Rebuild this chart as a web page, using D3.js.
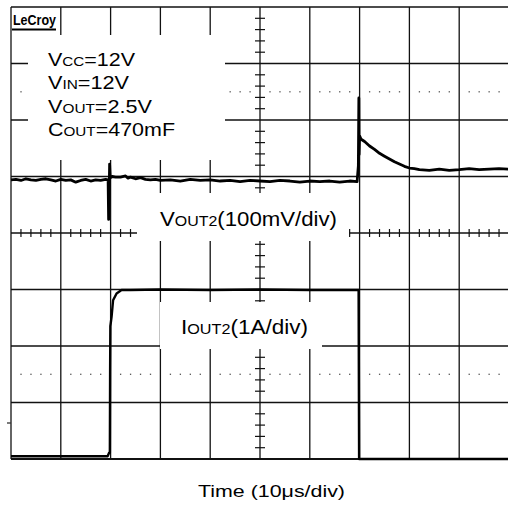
<!DOCTYPE html>
<html><head><meta charset="utf-8">
<script src="https://cdn.jsdelivr.net/npm/d3@7/dist/d3.min.js"></script>
<style>html,body{margin:0;padding:0;background:#fff}svg{display:block}</style>
</head><body><svg id="c" width="508" height="506"></svg>
<script>
// ---- data (time in µs, 10 µs/div; VOUT deviation in mV, 100 mV/div; IOUT in A, 1 A/div)
const gridTimes = [0,10,20,30,40,50,60,70,80,90,100];
const gridDivs = [-4,-3,-2,-1,0,1,2,3,4];
const voutT = [0,1,2,3,4,5,6,7,8,9,10,11,12,13,14,15,16,17,18,19,19.5,
  19.6,19.7,19.8,19.9,20.0,20.3,21,22,23,23.5,24,25,26,27,28,29,30,32,34,36,38,40,42,44,46,48,50,52,54,56,58,60,62,64,66,68,69.5,
  69.75,69.85,69.9,70.0,70.3,71,72,73,74,75,76,77,78,79,80,81,82,84,86,88,90,92,94,96,98,100];
const voutMv = [0,1,-1,2,0,-1,1,2,0,-2,1,-1,0,-4,-1,1,-2,0,-1,1,0,
  -70,-30,28,8,4,6,5,5,7,3,5,2,4,1,0,1,-1,0,-2,1,-1,0,-2,-1,-3,-1,-2,-3,-1,-2,-4,-2,-3,-2,-4,-2,-3,
  25,145,45,78,72,68,60,54,47,42,37,32,28,24,21,20,18,17,19,17,18,20,18,19,20,19];
const ioutT = [0,5,10,15,19.4,19.7,19.85,19.9,19.95,20.2,20.5,21.2,22.2,24,30,40,50,60,69.7,69.8,69.9,80,90,100];
const ioutA = [0,0,0,0,0,0.06,0.06,1.5,2.3,2.47,2.76,2.88,2.94,2.94,2.95,2.94,2.95,2.94,2.94,2.94,-0.05,-0.05,-0.05,-0.05];
const annLines = [["V","CC","=12V"],["V","IN","=12V"],["V","OUT","=2.5V"],["C","OUT","=470mF"]];
const voutLabel = ["V","OUT2","(100mV/div)"];
const ioutLabel = ["I","OUT2","(1A/div)"];
const xLabel = "Time (10\u03bcs/div)";

// ---- layout
const svg = d3.select("#c");
const x = d3.scaleLinear().domain([0,100]).range([11,509]);
const yDiv = d3.scaleLinear().domain([-4,4]).range([459,7]);
const VOUT_POS = 0.94, IOUT_POS = -3.95;
const yV = mv => yDiv(mv/100 + VOUT_POS);
const yI = a => yDiv(a + IOUT_POS);
const FONT = "Liberation Sans, Arial, Helvetica, sans-serif";

const g = svg.append("g");
// grid lines
g.selectAll(".vg").data(gridTimes).join("line")
  .attr("x1",d=>x(d)).attr("x2",d=>x(d)).attr("y1",yDiv(4)).attr("y2",yDiv(-4))
  .attr("stroke","#111").attr("stroke-width",1.3);
g.selectAll(".hg").data(gridDivs).join("line")
  .attr("x1",x(0)).attr("x2",x(100)).attr("y1",d=>yDiv(d)).attr("y2",d=>yDiv(d))
  .attr("stroke","#111").attr("stroke-width",d=>d===-4?2:1.3);
// minor ticks on center axes
const minorT = d3.range(0,100.01,2).filter(t=>t%10!==0);
g.selectAll(".mt").data(minorT).join("line")
  .attr("x1",d=>x(d)).attr("x2",d=>x(d)).attr("y1",yDiv(0)-4).attr("y2",yDiv(0)+4)
  .attr("stroke","#111").attr("stroke-width",1.2);
const minorD = d3.range(-4,4.001,0.2).map(v=>Math.round(v*10)/10).filter(v=>Math.abs(v-Math.round(v))>0.01);
g.selectAll(".md").data(minorD).join("line")
  .attr("x1",x(50)-5).attr("x2",x(50)+5).attr("y1",d=>yDiv(d)).attr("y2",d=>yDiv(d))
  .attr("stroke","#111").attr("stroke-width",1.2);
// dotted rows
const dotRows = [2.5,-2.5];
dotRows.forEach(r=>{
  g.selectAll(null).data(minorT).join("rect")
    .attr("x",d=>x(d)-0.6).attr("y",yDiv(r)-0.6).attr("width",1.3).attr("height",1.3).attr("fill","#555");
});
// ground marker
g.append("line").attr("x1",7).attr("x2",11).attr("y1",423).attr("y2",423).attr("stroke","#333").attr("stroke-width",1.3);

// white label boxes
const boxes = [[12,8,47,23],[28,35,197,125],[137,193,212,48],[160,302,162,47]];
g.selectAll(".bx").data(boxes).join("rect")
  .attr("x",d=>d[0]).attr("y",d=>d[1]).attr("width",d=>d[2]).attr("height",d=>d[3]).attr("fill","#fff");

// traces
const lineV = d3.line().x((d,i)=>x(voutT[i])).y(d=>yV(d));
g.append("path").attr("d",lineV(voutMv)).attr("fill","none").attr("stroke","#000").attr("stroke-width",2.8).attr("stroke-linejoin","round");
const lineI = d3.line().x((d,i)=>x(ioutT[i])).y(d=>yI(d));
g.append("path").attr("d",lineI(ioutA)).attr("fill","none").attr("stroke","#000").attr("stroke-width",2.4).attr("stroke-linejoin","round");

// LeCroy logo
g.append("text").attr("x",13).attr("y",25).attr("font-family",FONT).attr("font-weight","bold")
  .attr("font-size",14.5).attr("textLength",43).attr("lengthAdjust","spacingAndGlyphs").text("LeCroy");
g.append("line").attr("x1",12).attr("x2",56).attr("y1",29.5).attr("y2",29.5).attr("stroke","#000").attr("stroke-width",2);

function subText(parts, xx, yy, big, small, len){
  const t = g.append("text").attr("x",xx).attr("y",yy).attr("font-family",FONT).attr("font-size",big).attr("fill","#000");
  if(len) t.attr("textLength",len).attr("lengthAdjust","spacingAndGlyphs");
  t.append("tspan").text(parts[0]);
  t.append("tspan").attr("font-size",small).text(parts[1]);
  t.append("tspan").text(parts[2]);
  return t;
}
const annLens = [87,81,104,127];
annLines.forEach((p,i)=>subText(p,48,66+i*23.3,19,13.5,annLens[i]));
subText(voutLabel,160,226,19.5,14,177);
subText(ioutLabel,181,334,19.5,14,127);

g.append("text").attr("x",198).attr("y",497).attr("font-family",FONT).attr("font-size",16.5)
  .attr("textLength",147).attr("lengthAdjust","spacingAndGlyphs").text(xLabel);
</script></body></html>
